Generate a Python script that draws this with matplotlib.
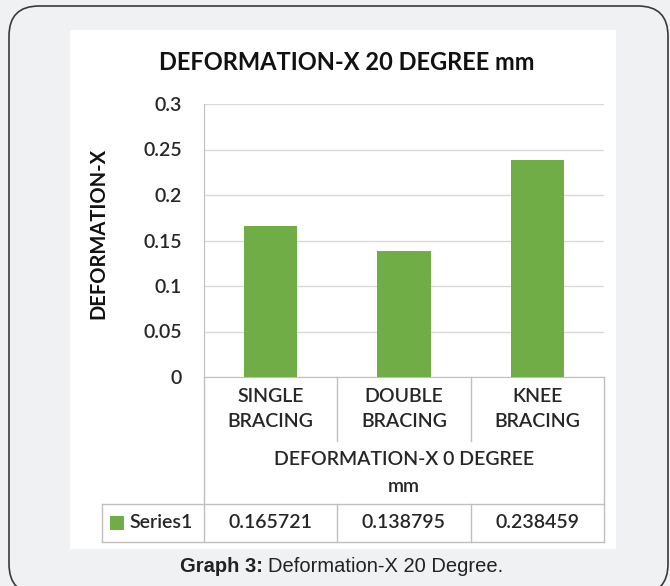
import matplotlib
matplotlib.use('Agg')
import matplotlib.pyplot as plt
from matplotlib.patches import Rectangle, FancyBboxPatch
from matplotlib.lines import Line2D
from matplotlib import transforms

categories = ['SINGLE\nBRACING', 'DOUBLE\nBRACING', 'KNEE\nBRACING']
values = [0.165721, 0.138795, 0.238459]
value_labels = ['0.165721', '0.138795', '0.238459']
series_name = 'Series1'
y_ticks = [0, 0.05, 0.1, 0.15, 0.2, 0.25, 0.3]
y_tick_labels = ['0', '0.05', '0.1', '0.15', '0.2', '0.25', '0.3']
title = 'DEFORMATION-X 20 DEGREE mm'
y_title = 'DEFORMATION-X'
x_title = 'DEFORMATION-X 0 DEGREE\nmm'
caption_bold = 'Graph 3:'
caption_rest = 'Deformation-X 20 Degree.'

W, H = 670, 586
BAR = '#70AD47'
GRID = '#D9D9D9'
LINE = '#BFBFBF'
TXT = '#262626'
BG = '#F0F1F3'
FONT = 'Lato'
REG = 'semibold'
FS = 14


def fx(x):
    return x / W


def fy(y):
    return 1 - y / H


fig = plt.figure(figsize=(6.7, 5.86), dpi=100, facecolor=BG)

# outer rounded frame and white chart area (in inches)
frame = FancyBboxPatch((0.09, -0.08), 6.59, 5.88,
                       boxstyle='round,pad=0,rounding_size=0.3',
                       transform=fig.dpi_scale_trans, facecolor=BG,
                       edgecolor='#3a3a3a', linewidth=1.2, zorder=0)
fig.add_artist(frame)
fig.add_artist(Rectangle((fx(70), fy(549)), fx(616) - fx(70), (549 - 30) / H,
                         transform=fig.transFigure, facecolor='white',
                         edgecolor='none', zorder=0.5))

ax = fig.add_axes([fx(204), fy(377), fx(604) - fx(204), (377 - 104) / H])
ax.set_zorder(2)
ax.patch.set_alpha(0)
ax.bar(range(len(values)), values, width=0.4, color=BAR, zorder=3)
ax.set_xlim(-0.5, len(values) - 0.5)
ax.set_ylim(0, 0.3)
ax.set_yticks(y_ticks)
ax.set_yticklabels(y_tick_labels, fontsize=FS, color=TXT, family=FONT,
                   fontweight=REG)
ax.tick_params(axis='y', length=0, pad=16)
ax.set_xticks([])
ax.grid(axis='y', color=GRID, linewidth=1, zorder=0)
for s in ['top', 'right']:
    ax.spines[s].set_visible(False)
ax.spines['left'].set_color(LINE)
ax.spines['bottom'].set_color(LINE)

trans = transforms.blended_transform_factory(ax.transData, fig.transFigure)


def vline(x, y0, y1, tr=trans):
    fig.add_artist(Line2D([x, x], [fy(y0), fy(y1)], transform=tr,
                          color=LINE, linewidth=1, clip_on=False, zorder=3))


# data table grid
vline(-0.5, 377, 542)
vline(len(values) - 0.5, 377, 542)
for b in range(1, len(values)):
    vline(b - 0.5, 377, 441)
    vline(b - 0.5, 504, 542)
for yy in (504, 542):
    fig.add_artist(Line2D([fx(102), fx(604)], [fy(yy), fy(yy)],
                          transform=fig.transFigure, color=LINE, linewidth=1,
                          zorder=3))
fig.add_artist(Line2D([fx(102), fx(102)], [fy(504), fy(542)],
                      transform=fig.transFigure, color=LINE, linewidth=1,
                      zorder=3))

for i, cat in enumerate(categories):
    fig.text(i, fy(409), cat, transform=trans, ha='center', va='center',
             fontsize=FS, color=TXT, family=FONT, fontweight=REG,
             linespacing=1.63, zorder=4)
    fig.text(i, fy(523), value_labels[i], transform=trans, ha='center',
             va='center', fontsize=FS, color=TXT, family=FONT,
             fontweight=REG, zorder=4)

fig.text((len(values) - 1) / 2, fy(473), x_title, transform=trans,
         ha='center', va='center', fontsize=FS, color=TXT, family=FONT,
         fontweight=REG, linespacing=1.75, zorder=4)

fig.add_artist(Rectangle((fx(110), fy(530)), fx(14), 14 / H,
                         transform=fig.transFigure, facecolor=BAR,
                         edgecolor='none', zorder=4))
fig.text(fx(129), fy(523), series_name, ha='left', va='center',
         fontsize=FS, color=TXT, family=FONT, fontweight=REG, zorder=4)

fig.text(fx(98), fy(233), y_title, rotation=90, ha='center', va='center',
         fontsize=14.5, fontweight='bold', color='#111111', family=FONT,
         zorder=4)
fig.text(fx(347), fy(63), title, ha='center', va='center',
         fontsize=17, fontweight='bold', color='#111111', family=FONT,
         zorder=4)

# caption: bold part + regular part, centred together
renderer = fig.canvas.get_renderer()
c1 = fig.text(0, fy(567), caption_bold, ha='left', va='center', fontsize=14.5,
              fontweight='bold', color='#222222', family='Liberation Sans',
              zorder=4)
c2 = fig.text(0, fy(567), caption_rest, ha='left', va='center', fontsize=14.5,
              color='#222222', family='Liberation Sans', zorder=4)
w1 = c1.get_window_extent(renderer).width
w2 = c2.get_window_extent(renderer).width
gap = 5
start = 342 - (w1 + gap + w2) / 2
c1.set_x(fx(start))
c2.set_x(fx(start + w1 + gap))

fig.savefig('out.png', dpi=100, facecolor=BG)
